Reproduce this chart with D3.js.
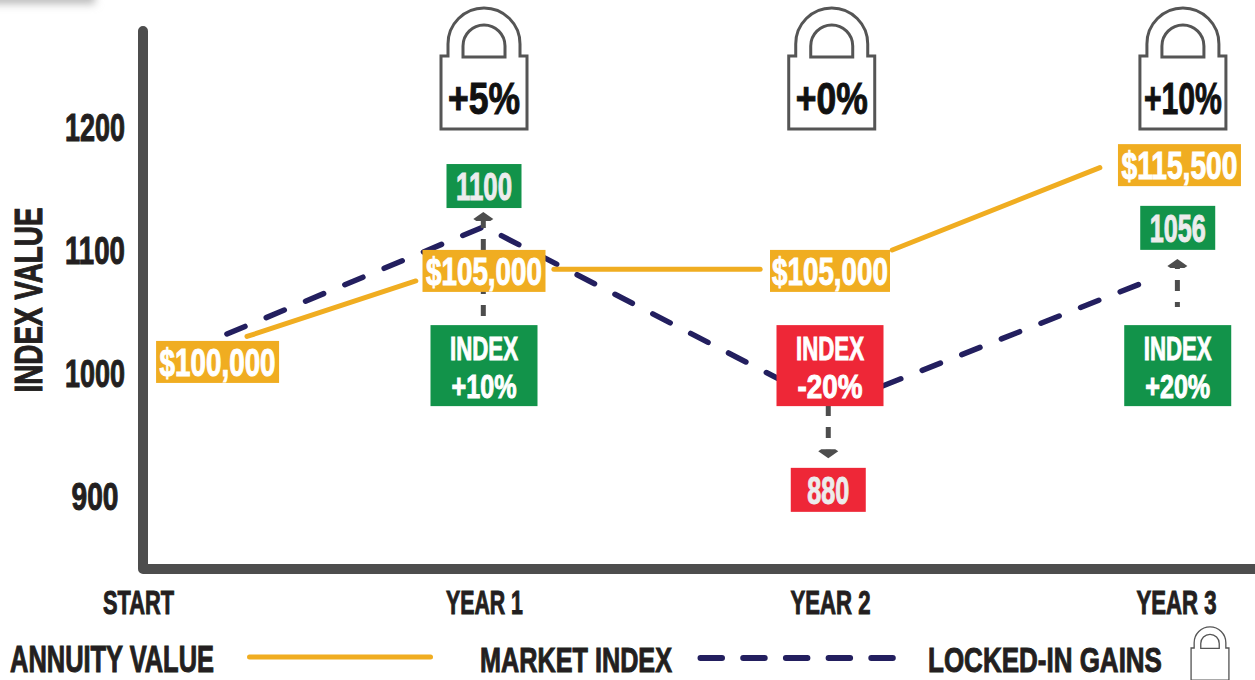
<!DOCTYPE html>
<html>
<head>
<meta charset="utf-8">
<script src="https://cdn.jsdelivr.net/npm/d3@7"></script>
<style>
  html, body { margin: 0; padding: 0; background: #fff; overflow: hidden; }
  text { font-family: "Liberation Sans Narrow", "Liberation Sans", sans-serif; font-weight: 700; }
</style>
</head>
<body>
<svg width="1255" height="680"></svg>
<script>
// Chart values, x is in years from start, y is in index points
const yTicks = [900, 1000, 1100, 1200];
const xTicks = [0, 1, 2, 3];
const xTickLabels = ["START", "YEAR 1", "YEAR 2", "YEAR 3"];

// Market index line, drawn through the boxes
const indexYears = [0.257, 1, 1.858];
const indexValues = [1031.7, 1119, 994.3];
const indexYears2 = [2.152, 2.896];
const indexValues2 = [989.4, 1072.4];

// Annuity line is broken up at the value boxes
const annuitySegments = [
  {years: [0.315, 0.803], values: [1029.7, 1074.8]},
  {years: [1.202, 1.798], values: [1084.3, 1084.3]},
  {years: [2.18, 2.78], values: [1100, 1167]}
];

const annuityLabels = ["$100,000", "$105,000", "$105,000", "$115,500"];
const annuityLabelYears = [0.23, 1, 2, 3.01];
const annuityLabelValues = [1009, 1083, 1083, 1169];

const indexResults = ["1100", "880", "1056"];
const indexResultYears = [1, 1.995, 3.005];
const indexResultValues = [1152, 905, 1118];
const indexChanges = ["+10%", "-20%", "+20%"];
const indexChangeYears = [1, 2, 3.005];
const indexChangeValues = [1006, 1006, 1006];

const lockGains = ["+5%", "+0%", "+10%"];
const lockYears = [1, 2.005, 3.02];

// Dashed arrows from the change box to the resulting index value
const arrowYears = [0.998, 1.995, 3.004];
const arrowFrom = [1046.3, 974, 1053.7];
const arrowTo = [1123.6, 938, 1085.4];
const arrowDashOffset = [0, 0, 6];

const colors = {
  axis: "#4d4d4d", text: "#231f20", orange: "#f0ad21", navy: "#231f5f",
  green: "#12934a", red: "#ee2737", box: "#ececec"
};

const svg = d3.select("svg");

const x = d3.scaleLinear().domain([0, 3]).range([138, 1176]);
const y = d3.scaleLinear().domain([900, 1200]).range([496, 127]);

// Text is scaled on x to a set width to get the heavy condensed look
function label(g, txt, cx, cy, size, width, fill, angle) {
  const t = g.append("text")
    .attr("dy", "0.36em")
    .attr("text-anchor", "middle")
    .attr("font-size", size)
    .attr("fill", fill)
    .attr("stroke", fill)
    .attr("stroke-width", 1)
    .text(txt);
  const sx = width / t.node().getComputedTextLength();
  t.attr("transform", `translate(${cx},${cy}) rotate(${angle || 0}) scale(${sx},1)`);
  return t;
}

// Soft grey smudge in the top corner of the source image
const defs = svg.append("defs");
defs.append("filter").attr("id", "soft")
  .attr("x", "-30%").attr("y", "-200%").attr("width", "160%").attr("height", "500%")
  .append("feGaussianBlur").attr("stdDeviation", 4);
svg.append("rect")
  .attr("x", -30).attr("y", -12).attr("width", 125).attr("height", 16)
  .attr("fill", "#bbb").attr("filter", "url(#soft)");

// Axes
const yAxis = svg.append("g")
  .attr("transform", "translate(95,0)")
  .call(d3.axisLeft(y).tickValues(yTicks).tickSize(0).tickPadding(0));
yAxis.select(".domain").remove();
yAxis.selectAll("text").remove();
yAxis.selectAll(".tick").each(function (d) {
  label(d3.select(this), d, 0, 0, 38, d === 900 ? 47 : 60, colors.text);
});

const xAxis = svg.append("g")
  .attr("transform", "translate(0,602)")
  .call(d3.axisBottom(x).tickValues(xTicks).tickSize(0));
xAxis.select(".domain").remove();
xAxis.selectAll("text").remove();
const xWidths = [71, 77, 80, 80];
xAxis.selectAll(".tick").each(function (d, i) {
  label(d3.select(this), xTickLabels[i], 0, 0, 33, xWidths[i], colors.text);
});

svg.append("path")
  .attr("d", "M143,31V569H1265")
  .attr("fill", "none")
  .attr("stroke", colors.axis)
  .attr("stroke-width", 10)
  .attr("stroke-linecap", "round")
  .attr("stroke-linejoin", "round");

label(svg, "INDEX VALUE", 28, 300, 38, 185, colors.text, -90);

const line = d3.line().x(d => x(d[0])).y(d => y(d[1]));

// Market index
[[indexYears, indexValues], [indexYears2, indexValues2]].forEach(([yrs, vals]) => {
  svg.append("path")
    .attr("d", line(d3.zip(yrs, vals)))
    .attr("fill", "none")
    .attr("stroke", colors.navy)
    .attr("stroke-width", 5.5)
    .attr("stroke-linecap", "round")
    .attr("stroke-dasharray", "19.6 23");
});

// Arrows
arrowYears.forEach((yr, i) => {
  const up = arrowTo[i] > arrowFrom[i];
  const ax = x(yr), y0 = y(arrowFrom[i]), y1 = y(arrowTo[i]);
  svg.append("line")
    .attr("x1", ax).attr("x2", ax)
    .attr("y1", y0).attr("y2", y1)
    .attr("stroke", colors.axis)
    .attr("stroke-width", 5)
    .attr("stroke-dasharray", "11 11")
    .attr("stroke-dashoffset", arrowDashOffset[i]);
  const s = up ? -1 : 1;
  svg.append("path")
    .attr("d", `M${ax},${y1 + s * 9}L${ax + 10},${y1 + s * 2}L${ax + 7},${y1}H${ax - 7}L${ax - 10},${y1 + s * 2}Z`)
    .attr("fill", colors.axis);
});

// Annuity value
annuitySegments.forEach(seg => {
  svg.append("path")
    .attr("d", line(d3.zip(seg.years, seg.values)))
    .attr("fill", "none")
    .attr("stroke", colors.orange)
    .attr("stroke-width", 5)
    .attr("stroke-linecap", "round");
});

// Boxes
function box(cx, cy, w, h, fill) {
  svg.append("rect")
    .attr("x", cx - w / 2).attr("y", cy - h / 2)
    .attr("width", w).attr("height", h)
    .attr("fill", fill);
}

annuityLabels.forEach((txt, i) => {
  const cx = x(annuityLabelYears[i]), cy = y(annuityLabelValues[i]);
  box(cx, cy, i === 2 ? 120 : 123, 42, colors.orange);
  label(svg, txt, cx, cy, 38, 116, "#fff");
});

indexResults.forEach((txt, i) => {
  const cx = x(indexResultYears[i]), cy = y(indexResultValues[i]);
  box(cx, cy, 75, 44, i === 1 ? colors.red : colors.green);
  label(svg, txt, cx, cy, 38, i === 1 ? 42 : 56, colors.box);
});

indexChanges.forEach((txt, i) => {
  const cx = x(indexChangeYears[i]), cy = y(indexChangeValues[i]);
  box(cx, cy, 107, 81, txt[0] === "-" ? colors.red : colors.green);
  label(svg, "INDEX", cx, cy - 18, 34, 68, "#fff");
  label(svg, txt, cx, cy + 20, 34, 65, "#fff");
});

// Padlock drawn around 0,0 = middle of the body top edge
function lock(g) {
  g.append("path")
    .attr("d", "M-43,73V0H-36V-12A36,36 0 0 1 36,-12V0H43V73ZM-21,1V-10A21,21 0 0 1 21,-10V1Z")
    .attr("fill", "#fff")
    .attr("stroke", "#555")
    .attr("stroke-width", 3);
}

const lockWidths = [72, 72, 78];
lockGains.forEach((txt, i) => {
  const cx = x(lockYears[i]);
  const g = svg.append("g").attr("transform", `translate(${cx},56)`);
  lock(g);
  label(g, txt, 0, 42, 44, lockWidths[i], "#111");
});

// Legend
label(svg, "ANNUITY VALUE", 112, 659, 36, 204, colors.text);
svg.append("line")
  .attr("x1", 249.5).attr("x2", 430.5).attr("y1", 657).attr("y2", 657)
  .attr("stroke", colors.orange).attr("stroke-width", 5).attr("stroke-linecap", "round");
label(svg, "MARKET INDEX", 576, 659, 36, 192, colors.text);
svg.append("line")
  .attr("x1", 700.5).attr("x2", 892.8).attr("y1", 658).attr("y2", 658)
  .attr("stroke", colors.navy).attr("stroke-width", 6).attr("stroke-linecap", "round")
  .attr("stroke-dasharray", "21.5 21.2");
label(svg, "LOCKED-IN GAINS", 1045, 659, 36, 234, colors.text);
lock(svg.append("g").attr("transform", "translate(1210,648) scale(0.44)"));
</script>
</body>
</html>
